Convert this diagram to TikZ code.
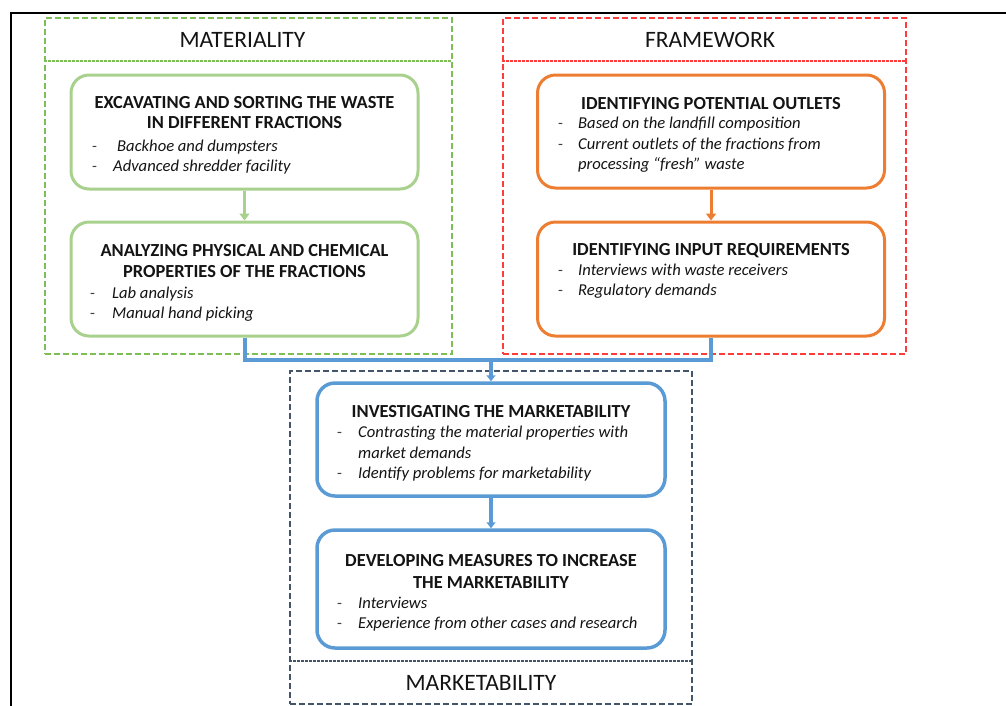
\documentclass[tikz,border=0pt]{standalone}
\usepackage{fontspec}
\setmainfont{Carlito}
\usetikzlibrary{arrows.meta}

\definecolor{matgreen}{HTML}{A9D18E}
\definecolor{matdash}{HTML}{7DBE55}
\definecolor{frameorange}{HTML}{ED7D31}
\definecolor{framedash}{HTML}{FF3C3C}
\definecolor{mktblue}{HTML}{5B9BD5}
\definecolor{mktdash}{HTML}{44546A}
\definecolor{ink}{HTML}{141414}
\definecolor{dashgrey}{HTML}{404040}

\newcommand\titlefont{\bfseries\fontsize{18.4}{20}\selectfont}
\newcommand\itemfont{\itshape\fontsize{16.6}{20}\selectfont}
\newcommand\headfont{\fontsize{23.5}{26}\selectfont}

\begin{document}
\begin{tikzpicture}[x=1pt,y=-1pt,
  container/.style={draw=#1, line width=1.6pt, dash pattern=on 6pt off 3pt,
    inner sep=0pt, anchor=north west},
  separator/.style={draw=#1, line width=1.2pt, dash pattern=on 2.5pt off 1.5pt},
  stepbox/.style={draw=#1, line width=3pt, rounded corners=18pt, fill=white,
    inner sep=0pt, minimum width=347pt},
  title/.style={anchor=base, inner sep=0pt, text=ink, font=\titlefont},
  head/.style={anchor=base, inner sep=0pt, text=ink, font=\headfont},
  item/.style={anchor=base west, inner sep=0pt, text=ink, font=\itemfont},
  bullet/.style={anchor=base west, inner sep=0pt, text=dashgrey, font=\fontsize{16}{20}\selectfont},
  flow/.style={draw=#1, line width=3pt, -{Triangle[length=7pt,width=10pt]}},
  bus/.style={draw=mktblue, line width=4pt},
]
\useasboundingbox (0,0) rectangle (1006,705);

% outer page frame
\draw[line width=2pt, black] (11,710) -- (11,13) -- (1010,13);

% three group containers
\node[container=matdash, minimum width=407pt, minimum height=336pt] (matgroup) at (44,17) {};
\draw[separator=matdash] (44,61) -- (451,61);
\node[head] (mathead) at (242.5,47) {MATERIALITY};

\node[container=framedash, minimum width=403pt, minimum height=336pt] (framegroup) at (502,17) {};
\draw[separator=framedash] (502,61) -- (905,61);
\node[head] (framehead) at (710,47) {FRAMEWORK};

\node[container=mktdash, minimum width=402pt, minimum height=333pt] (mktgroup) at (289,370) {};
\draw[separator=mktdash] (289,661) -- (691,661);
\node[head] (mkthead) at (481,690) {MARKETABILITY};

% step boxes
\node[stepbox=matgreen, minimum height=114pt] (g1) at (244.5,132) {};
\node[stepbox=matgreen, minimum height=114pt] (g2) at (244.5,279) {};
\node[stepbox=frameorange, minimum height=113pt] (o1) at (711,131.5) {};
\node[stepbox=frameorange, minimum height=114pt] (o2) at (711,279) {};
\node[stepbox=mktblue, line width=3.5pt, minimum height=113pt, minimum width=348pt] (b1) at (491,439.5) {};
\node[stepbox=mktblue, line width=3.5pt, minimum height=118pt, minimum width=348pt] (b2) at (491,589) {};

% connectors
\draw[flow=matgreen] (g1) -- (g2);
\draw[flow=frameorange] (o1) -- (o2);
\coordinate (join) at (491,360);
\draw[bus] (g2.south) |- (join) -| (o2.south);
\draw[bus, -{Triangle[length=6pt,width=9pt]}] (join) -- (b1.north);
\draw[bus, line width=3.5pt, -{Triangle[length=6pt,width=9pt]}] (b1) -- (b2);

% materiality texts
\node[title] (g1t1) at (244.5,108) {EXCAVATING AND SORTING THE WASTE};
\node[title] (g1t2) at (244.5,128) {IN DIFFERENT FRACTIONS};
\node[bullet] (g1d1) at (92,151) {-};
\node[item] (g1i1) at (117,151) {Backhoe and dumpsters};
\node[bullet] (g1d2) at (92,171) {-};
\node[item] (g1i2) at (113,171) {Advanced shredder facility};

\node[title] (g2t1) at (244.5,256) {ANALYZING PHYSICAL AND CHEMICAL};
\node[title] (g2t2) at (244.5,277) {PROPERTIES OF THE FRACTIONS};
\node[bullet] (g2d1) at (90,298) {-};
\node[item] (g2i1) at (112,298) {Lab analysis};
\node[bullet] (g2d2) at (90,318) {-};
\node[item] (g2i2) at (112,318) {Manual hand picking};

% framework texts
\node[title] (o1t1) at (711,109) {IDENTIFYING POTENTIAL OUTLETS};
\node[bullet] (o1d1) at (558,128) {-};
\node[item] (o1i1) at (578,128) {Based on the landfill composition};
\node[bullet] (o1d2) at (558,149) {-};
\node[item] (o1i2) at (578,149) {Current outlets of the fractions from};
\node[item] (o1i3) at (578,169) {processing “fresh” waste};

\node[title] (o2t1) at (711,255) {IDENTIFYING INPUT REQUIREMENTS};
\node[bullet] (o2d1) at (558,275) {-};
\node[item] (o2i1) at (578,275) {Interviews with waste receivers};
\node[bullet] (o2d2) at (558,295) {-};
\node[item] (o2i2) at (578,295) {Regulatory demands};

% marketability texts
\node[title] (b1t1) at (491,417) {INVESTIGATING THE MARKETABILITY};
\node[bullet] (b1d1) at (337,437) {-};
\node[item] (b1i1) at (358,437) {Contrasting the material properties with};
\node[item] (b1i2) at (358,458) {market demands};
\node[bullet] (b1d2) at (337,478) {-};
\node[item] (b1i3) at (358,478) {Identify problems for marketability};

\node[title] (b2t1) at (491,566) {DEVELOPING MEASURES TO INCREASE};
\node[title] (b2t2) at (491,588) {THE MARKETABILITY};
\node[bullet] (b2d1) at (337,608) {-};
\node[item] (b2i1) at (358,608) {Interviews};
\node[bullet] (b2d2) at (337,628) {-};
\node[item] (b2i2) at (358,628) {Experience from other cases and research};
\end{tikzpicture}
\end{document}
